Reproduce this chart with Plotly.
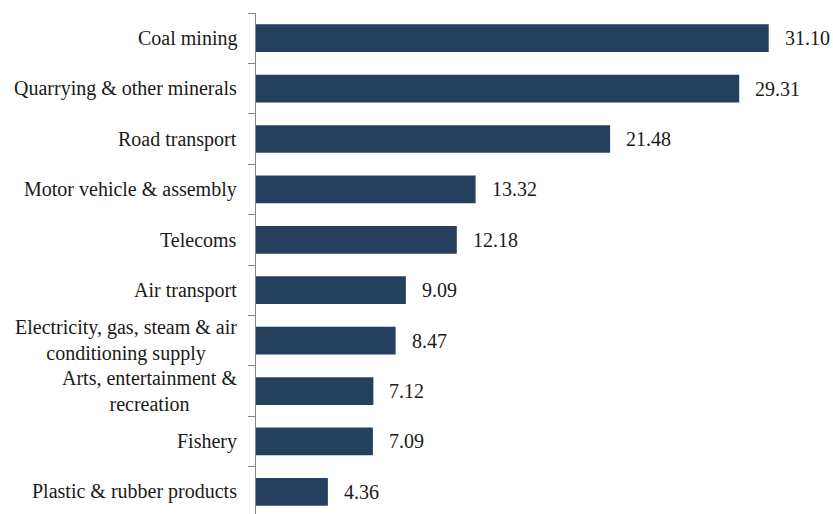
import plotly.graph_objects as go

# Sectors, listed bottom to top
sectors = [
    "Plastic & rubber products",
    "Fishery",
    "Arts, entertainment &<br>recreation",
    "Electricity, gas, steam & air<br>conditioning supply",
    "Air transport",
    "Telecoms",
    "Motor vehicle & assembly",
    "Road transport",
    "Quarrying & other minerals",
    "Coal mining",
]
values = [4.36, 7.09, 7.12, 8.47, 9.09, 12.18, 13.32, 21.48, 29.31, 31.10]

BAR_COLOR = "#253f5f"
FONT = "'Liberation Serif', 'Times New Roman', serif"
FONT_SIZE = 20
positions = list(range(len(sectors)))

fig = go.Figure(
    go.Bar(
        x=values,
        y=positions,
        orientation="h",
        marker=dict(color=BAR_COLOR, line=dict(width=0)),
        width=0.55,
        hoverinfo="x+y",
    )
)

annotations = []
for pos, name, val in zip(positions, sectors, values):
    # category label, centred lines, right-aligned to the axis
    annotations.append(dict(
        x=0, y=pos, xref="x", yref="y", text=name, showarrow=False,
        xanchor="right", yanchor="middle", align="center", xshift=-17,
        font=dict(family=FONT, size=FONT_SIZE, color="#1a1a1a"),
    ))
    # value label beyond the bar end
    annotations.append(dict(
        x=val, y=pos, xref="x", yref="y", text=f"{val:.2f}", showarrow=False,
        xanchor="left", yanchor="middle", xshift=14,
        font=dict(family=FONT, size=FONT_SIZE, color="#1a1a1a"),
    ))

fig.update_layout(
    width=833, height=514,
    margin=dict(l=256, r=0, t=13, b=0),
    paper_bgcolor="white", plot_bgcolor="white",
    showlegend=False,
    annotations=annotations,
    xaxis=dict(range=[0, 35.0], visible=False, showgrid=False, zeroline=False),
    yaxis=dict(
        range=[-0.44, 9.5],
        tickmode="array",
        tickvals=[p + 0.5 for p in positions] + [-0.5],
        ticktext=[""] * (len(positions) + 1),
        ticks="outside", ticklen=7, tickcolor="#868686", tickwidth=1,
        showline=True, linecolor="#868686", linewidth=1,
        showgrid=False, zeroline=False,
    ),
)

fig.write_html("out.html")
